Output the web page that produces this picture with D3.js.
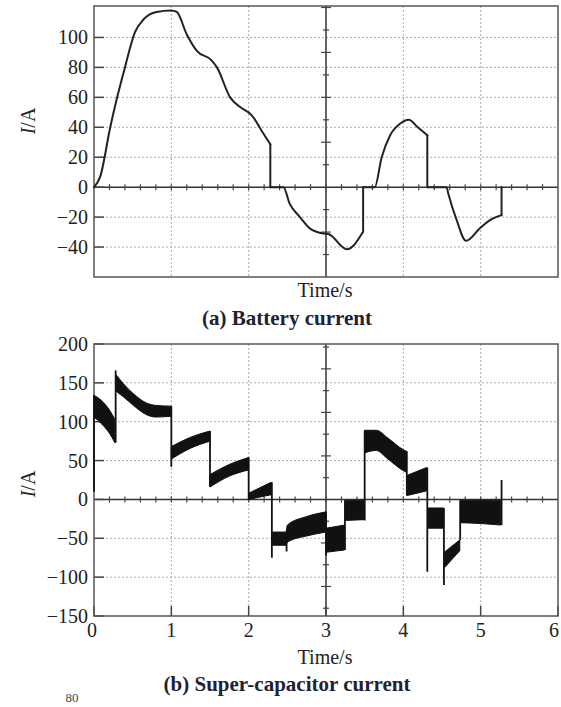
<html>
<body style="margin:0;background:#fff;">
  <script src="https://d3js.org/d3.v7.min.js"></script>
  <div id="div1"></div>
  <script>
    //battery current, panel (a)
    const batTime = [0, 0.08, 0.21, 0.29, 0.40, 0.53, 0.64, 0.81, 1.0, 1.07, 1.2, 1.33, 1.52, 1.59, 1.76, 1.89, 2.04, 2.19, 2.28, 2.28,
                     2.45, 2.53, 2.66, 2.79, 2.97, 3.03, 3.27, 3.48, 3.48, 3.63, 3.72, 3.83, 3.96, 4.07, 4.19, 4.31, 4.31,
                     4.56, 4.58, 4.69, 4.81, 4.99, 5.12, 5.27, 5.27];
    const batCurrent = [0, 7, 40, 58, 80, 103.5, 112, 117, 118, 117, 102, 91, 84.7, 80, 60, 53.5, 48, 35.8, 28.7, 0,
                        0, -11, -19.8, -27.5, -31, -31.3, -41.5, -29.8, 0, 0, 20, 34.7, 42.5, 45, 39.8, 34.7, 0,
                        0, -4, -22, -35.8, -27.5, -22, -18.7, 0];

    //super-capacitor current, panel (b): ripple band (upper / lower edge), null ends a segment
    const capTime  = [0, 0.1, 0.2, 0.27, null,
                      0.29, 0.38, 0.51, 0.68, 0.8, 1.0, null,
                      1.0, 1.25, 1.5, null,
                      1.5, 1.75, 2.0, null,
                      2.0, 2.29, null,
                      2.31, 2.48, 2.5, 2.75, 3.0, null,
                      3.0, 3.24, null,
                      3.25, 3.5, null,
                      3.5, 3.65, 3.8, 4.0, 4.04, null,
                      4.05, 4.3, null,
                      4.32, 4.52, null,
                      4.53, 4.73, null,
                      4.74, 5.0, 5.26];
    const capUpper = [134, 127, 115, 103, null,
                      160, 149, 136, 124, 121, 120, null,
                      68, 80, 88, null,
                      32, 45, 54, null,
                      8, 22, null,
                      -42, -42, -33, -22, -16, null,
                      -37, -33, null,
                      -1, -1, null,
                      89, 89, 79, 64, 62, null,
                      31, 41, null,
                      -11, -11, null,
                      -68, -52, null,
                      -1, -1, -1];
    const capLower = [106, 97, 85, 73, null,
                      139, 132, 121, 109, 106, 107, null,
                      52, 66, 75, null,
                      16, 30, 38, null,
                      0, 6, null,
                      -59, -59, -55, -47, -42, null,
                      -68, -65, null,
                      -27, -26, null,
                      60, 63, 52, 37, 35, null,
                      5, 11, null,
                      -37, -37, null,
                      -88, -66, null,
                      -30, -31, -33];
    //switching spikes
    const spikeTime = [0, 0.28, 1.0, 1.5, 2.0, 2.30, 2.49, 3.0, 3.245, 3.5, 4.045, 4.31, 4.525, 4.735, 5.27];
    const spikeFrom = [10, 73, 120, 88, 54, 22, -42, -16, -65, -27, 62, 41, -11, -52, -33];
    const spikeTo   = [134, 166, 42, 16, 0, -75, -67, -72, -1, 89, 5, -93, -110, -1, 25];

    const xTicks = [0, 1, 2, 3, 4, 5, 6];
    const batTicks = [-40, -20, 0, 20, 40, 60, 80, 100];
    const capTicks = [-150, -100, -50, 0, 50, 100, 150, 200];

    const width = 561;
    const height = 707;
    const font = "'Liberation Serif', 'Times New Roman', serif";
    var svg = d3.select("#div1")
                .append("svg")
                .attr("width", width)
                .attr("height", height)
                .style("display", "block")
                .style("background", "#fff");

    const left = 94, right = 558;
    let xScale = d3.scaleLinear().domain([0, 6]).range([left, right]);
    let batScale = d3.scaleLinear().domain([-60, 121]).range([277, 6]);
    let capScale = d3.scaleLinear().domain([-150, 200]).range([616, 344]);

    //frame, grid, origin lines and tick labels for one panel
    function drawFrame(yScale, ticks, vStep, showX) {
      const [yMin, yMax] = yScale.domain();
      const top = yScale(yMax), bottom = yScale(yMin);
      //dotted grid
      ticks.forEach(t => {
        if (t == 0 || t == yMin || t == yMax) return;
        svg.append("line")
           .attr("x1", left).attr("x2", right)
           .attr("y1", yScale(t)).attr("y2", yScale(t))
           .style("stroke", "#aaa").style("stroke-width", 1)
           .style("stroke-dasharray", "2,2");
      });
      xTicks.forEach(t => {
        if (t == 0 || t == 3 || t == 6) return;
        svg.append("line")
           .attr("x1", xScale(t)).attr("x2", xScale(t))
           .attr("y1", top).attr("y2", bottom)
           .style("stroke", "#aaa").style("stroke-width", 1)
           .style("stroke-dasharray", "2,2");
      });
      //origin lines
      svg.append("line")
         .attr("x1", left).attr("x2", right)
         .attr("y1", yScale(0)).attr("y2", yScale(0))
         .style("stroke", "#333").style("stroke-width", 1.5);
      svg.append("line")
         .attr("x1", xScale(3)).attr("x2", xScale(3))
         .attr("y1", top).attr("y2", bottom)
         .style("stroke", "#333").style("stroke-width", 1.5);
      //minor ticks on the origin lines
      d3.range(0.2, 5.9, 0.2).forEach(t => {
        svg.append("line")
           .attr("x1", xScale(t)).attr("x2", xScale(t))
           .attr("y1", yScale(0) - 3).attr("y2", yScale(0) + 3)
           .style("stroke", "#444").style("stroke-width", 1.2);
      });
      d3.range(-10, 11).forEach(k => {
        let v = k * vStep;
        if (k == 0 || v <= yMin || v >= yMax) return;
        let len = (k % 2 == 0) ? 5 : 3;
        svg.append("line")
           .attr("x1", xScale(3) - len).attr("x2", xScale(3) + len)
           .attr("y1", yScale(v)).attr("y2", yScale(v))
           .style("stroke", "#444").style("stroke-width", 1.2);
      });
      //major ticks on the left and tick labels
      ticks.forEach(t => {
        svg.append("line")
           .attr("x1", left).attr("x2", left + 10)
           .attr("y1", yScale(t)).attr("y2", yScale(t))
           .style("stroke", "#444").style("stroke-width", 1.5);
        svg.append("text")
           .attr("x", 88).attr("y", yScale(t) + 7)
           .attr("text-anchor", "end")
           .style("font-family", font).style("font-size", "20px").style("fill", "#222")
           .text(t < 0 ? "\u2212" + Math.abs(t) : t);
      });
      if (showX) {
        xTicks.forEach(t => {
          svg.append("line")
             .attr("x1", xScale(t)).attr("x2", xScale(t))
             .attr("y1", bottom).attr("y2", bottom - 10)
             .style("stroke", "#444").style("stroke-width", 1.5);
          //keep the first and last label inside the page
          let dx = (t == 0) ? -2 : (t == 6 ? -4 : 0);
          svg.append("text")
             .attr("x", xScale(t) + dx).attr("y", bottom + 21)
             .attr("text-anchor", "middle")
             .style("font-family", font).style("font-size", "20px").style("fill", "#222")
             .text(t);
        });
      }
      //plot border
      svg.append("rect")
         .attr("x", left).attr("y", top)
         .attr("width", right - left).attr("height", bottom - top)
         .style("fill", "none").style("stroke", "#555").style("stroke-width", 1.5);
    }

    function drawLabels(yLabelY, timeY, captionY, caption) {
      let lab = svg.append("text")
         .attr("transform", "translate(" + 35 + "," + yLabelY + ") rotate(-90)")
         .attr("text-anchor", "middle")
         .style("font-family", font).style("font-size", "20px").style("fill", "#222");
      lab.append("tspan").style("font-style", "italic").text("I");
      lab.append("tspan").text("/A");
      svg.append("text")
         .attr("x", 325).attr("y", timeY)
         .attr("text-anchor", "middle")
         .style("font-family", font).style("font-size", "20px").style("fill", "#222")
         .text("Time/s");
      svg.append("text")
         .attr("x", 287).attr("y", captionY)
         .attr("text-anchor", "middle")
         .style("font-family", font).style("font-size", "21px").style("font-weight", "bold").style("fill", "#1e2233")
         .text(caption);
    }

    //A. battery current
    drawFrame(batScale, batTicks, 15, false);
    //split into smooth runs at the vertical jumps (same time twice)
    let runs = [[]];
    batTime.forEach((t, i) => {
      let run = runs[runs.length - 1];
      if (run.length > 0 && t == run[run.length - 1].t) runs.push(run = []);
      run.push({t: t, v: batCurrent[i]});
    });
    let smooth = d3.line().x(d => xScale(d.t)).y(d => batScale(d.v)).curve(d3.curveMonotoneX);
    let straight = d3.line().x(d => xScale(d.t)).y(d => batScale(d.v));
    runs.forEach((run, k) => {
      svg.append("path")
         .datum(run)
         .attr("d", smooth)
         .style("fill", "none").style("stroke", "#222").style("stroke-width", 2)
         .style("stroke-linejoin", "round").style("stroke-linecap", "round");
      if (k > 0) {
        let prev = runs[k - 1];
        svg.append("path")
           .datum([prev[prev.length - 1], run[0]])
           .attr("d", straight)
           .style("fill", "none").style("stroke", "#222").style("stroke-width", 2)
           .style("stroke-linecap", "round");
      }
    });
    drawLabels(121, 297, 325, "(a) Battery current");

    //B. super-capacitor current
    drawFrame(capScale, capTicks, 28, true);
    let capData = capTime.map((t, i) => ({t: t, hi: capUpper[i], lo: capLower[i]}));
    svg.append("path")
       .datum(capData)
       .attr("d", d3.area().defined(d => d.t != null)
                    .x(d => xScale(d.t)).y0(d => capScale(d.lo)).y1(d => capScale(d.hi))
                    .curve(d3.curveMonotoneX))
       .style("fill", "#111").style("stroke", "#111").style("stroke-width", 1);
    spikeTime.forEach((t, i) => {
      svg.append("line")
         .attr("x1", xScale(t)).attr("x2", xScale(t))
         .attr("y1", capScale(spikeFrom[i])).attr("y2", capScale(spikeTo[i]))
         .style("stroke", "#111").style("stroke-width", 1.8);
    });
    drawLabels(484, 664, 691, "(b) Super-capacitor current");

    //page number at the bottom edge
    svg.append("text")
       .attr("x", 72).attr("y", 702)
       .attr("text-anchor", "middle")
       .style("font-family", font).style("font-size", "13px").style("fill", "#444")
       .text("80");
  </script>
</body>
</html>
